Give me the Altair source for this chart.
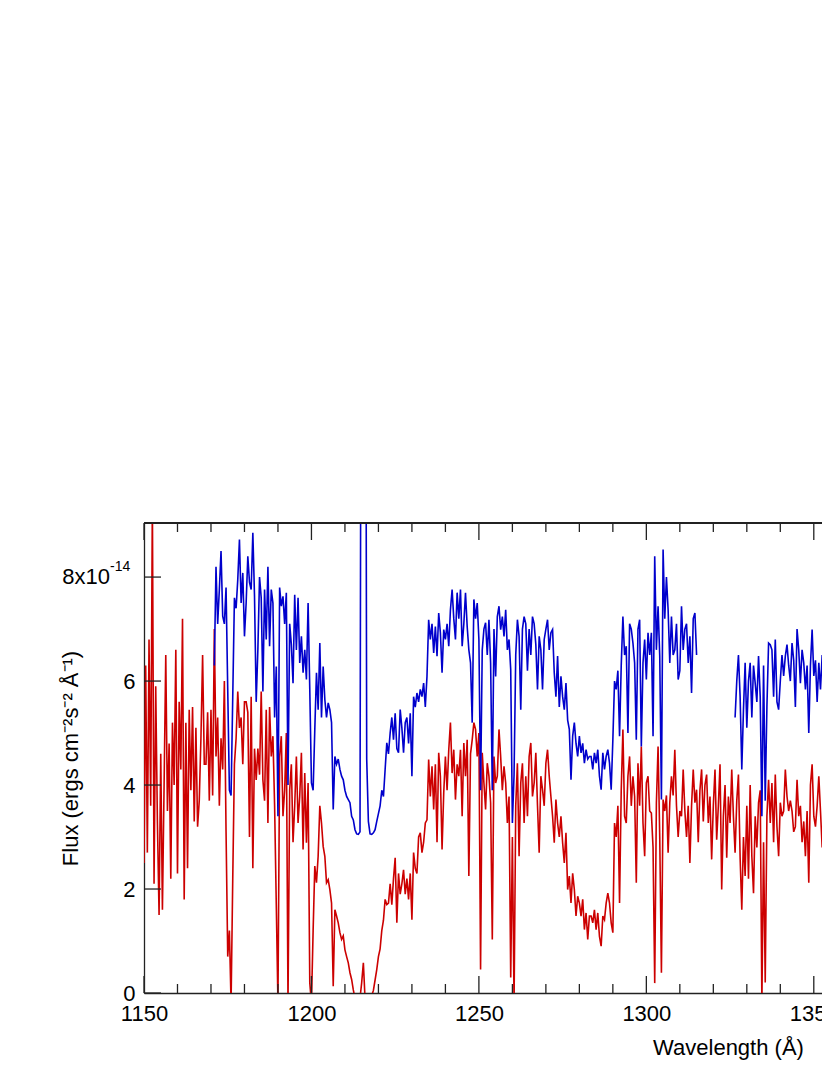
import altair as alt
import pandas as pd

# ---------------- data (flux in units of 1e-14 ergs cm^-2 s^-1 A^-1) ----------------
WAVE_START = 1150.0   # first sample of the red spectrum (Angstrom)
WAVE_STEP = 0.5       # sampling step (Angstrom)

RED_FLUX = [
    2.5, 6.3, 2.7, 6.8, 3.6, 9.5, 2.1, 5.9, 3.3, 1.5,        # 1150
    4.6, 1.6, 4.0, 6.5, 3.5, 4.8, 2.2, 5.2, 4.0, 6.6,        # 1155
    2.3, 5.6, 4.3, 7.2, 1.8, 5.2, 2.4, 5.45, 3.9, 5.5,       # 1160
    3.3, 5.1, 3.2, 3.7, 4.9, 6.5, 4.4, 4.4, 5.4, 3.7,        # 1165
    5.45, 3.8, 7.0, 4.55, 5.3, 3.6, 4.9, 4.3, 6.0, 3.1,      # 1170
    0.7, 1.2, -0.2, 2.2, 4.4, 4.9, 5.8, 5.1, 5.3, 4.4,       # 1175
    5.6, 5.6, 5.4, 3.0, 5.7, 2.4, 4.7, 4.1, 4.7, 4.2,        # 1180
    5.8, 4.1, 3.7, 5.45, 3.27, 5.5, 4.55, 4.94, 3.6, 1.7,    # 1185
    -0.2, 4.55, 4.94, 3.4, 3.9, 5.0, -0.2, 3.9, 4.4, 2.9,    # 1190
    3.6, 4.55, 3.27, 3.78, 4.62, 2.76, 4.23, 2.89, 4.04, 0.2,  # 1195
    -0.2, 1.2, 2.44, 2.12, 2.63, 3.6, 3.27, 2.82, 2.63, 2.12,  # 1200
    2.18, 1.99, 1.73, 0.13, 1.6, 1.48, 1.35, 1.16, 1.03, 1.1,  # 1205
    0.83, 0.7, 0.58, 0.39, 0.26, 0.06, -0.1, -0.2, -0.2, -0.1,  # 1210
    0.2, 0.58, -0.1, -0.2, -0.2, -0.1, -0.05, 0.05, 0.25, 0.45,  # 1215
    0.7, 0.85, 1.2, 1.4, 1.8, 1.7, 1.73, 2.1, 1.7, 2.2,      # 1220
    2.6, 1.35, 2.3, 1.9, 2.1, 2.37, 1.9, 2.2, 1.8, 2.3,      # 1225
    1.41, 2.7, 2.4, 2.3, 3.0, 3.08, 2.7, 2.9, 3.27, 3.33,    # 1230
    4.49, 3.78, 4.36, 3.53, 4.4, 2.9, 4.62, 4.17, 2.76, 3.85,  # 1235
    4.55, 3.9, 4.68, 5.2, 4.23, 4.68, 3.72, 4.4, 4.17, 4.68,  # 1240
    3.4, 4.81, 4.17, 4.87, 2.25, 4.6, 4.87, 5.2, 5.07, 4.55,  # 1245
    5.0, 0.45, 4.62, 4.04, 3.53, 4.42, 4.17, 3.66, 1.03, 4.55,  # 1250
    4.04, 4.17, 5.07, 4.55, 3.9, 4.36, 4.04, 3.27, 3.78, 0.3,  # 1255
    3.0, -0.2, 3.6, 4.42, 2.63, 4.04, 4.42, 3.27, 4.17, 3.4,  # 1260
    4.55, 4.81, 3.78, 4.04, 4.62, 3.6, 2.7, 4.17, 3.91, 3.6,  # 1265
    4.42, 4.68, 4.17, 3.78, 3.4, 2.89, 3.72, 3.27, 3.0, 3.4,  # 1270
    2.89, 2.5, 3.08, 1.99, 2.25, 1.73, 2.3, 1.99, 1.48, 1.86,  # 1275
    1.73, 1.48, 1.8, 1.22, 1.54, 1.03, 1.48, 1.48, 1.35, 1.6,  # 1280
    1.22, 1.54, 1.09, 0.9, 1.48, 1.41, 1.73, 1.92, 1.73, 1.35,  # 1285
    1.16, 3.27, 3.0, 3.6, 1.73, 3.9, 5.07, 3.4, 3.27, 4.17,  # 1290
    4.55, 3.6, 4.17, 3.78, 2.12, 4.42, 3.6, 4.74, 3.27, 2.63,  # 1295
    4.04, 4.17, 3.5, 3.46, 2.8, 0.19, 3.66, 4.74, 3.0, 0.39,  # 1300
    3.72, 3.5, 3.8, 2.7, 3.66, 4.17, 3.8, 4.68, 3.6, 3.0,    # 1305
    3.5, 3.4, 4.3, 3.5, 3.0, 3.6, 2.5, 3.6, 4.3, 3.66,       # 1310
    3.91, 2.9, 3.9, 4.3, 3.3, 4.0, 4.2, 3.27, 3.78, 2.57,    # 1315
    3.6, 4.3, 2.95, 3.6, 4.4, 1.99, 3.4, 4.0, 2.6, 3.78,     # 1320
    3.27, 4.3, 3.4, 2.7, 3.7, 4.2, 2.6, 1.6, 3.0, 2.25,      # 1325
    3.6, 2.2, 4.0, 2.63, 1.92, 3.4, 2.8, 3.66, 3.9, -0.2,    # 1330
    2.9, 0.2, 3.4, 4.1, 3.27, 4.04, 2.9, 4.2, 3.2, 2.63,     # 1335
    3.66, 3.4, 3.5, 4.3, 3.78, 3.5, 3.7, 3.5, 3.1, 3.2,      # 1340
    4.1, 3.4, 3.6, 2.9, 3.3, 2.63, 3.5, 2.12, 4.0, 4.4,      # 1345
    3.4, 3.2, 3.6, 4.17, 3.5, 2.8, 3.7, 3.9, 3.5, 4.17,      # 1350
    3.4, 3.8, 3.3, 4.0, 3.6, 3.9, 3.2, 4.1, 3.5, 3.7,        # 1355
]

BLUE_A_START = 1171.0
BLUE_A_FLUX = [
    6.3, 8.2, 7.1, 7.76, 8.5, 7.25, 7.1, 7.8, 5.84, 3.9,     # 1171
    3.8, 5.7, 7.6, 7.4, 7.95, 8.72, 7.5, 8.08, 6.86, 7.5,    # 1176
    8.4, 7.9, 7.76, 8.85, 7.63, 5.6, 6.6, 8.0, 7.6, 5.8,     # 1181
    7.76, 6.8, 8.2, 6.67, 7.76, 7.5, 5.3, 6.28, 3.4, 7.8,    # 1186
    7.44, 7.63, 7.1, 7.7, 4.0, 7.1, 6.7, 5.96, 7.66, 6.6,    # 1191
    7.6, 6.35, 6.86, 6.16, 6.6, 6.03, 7.5, 5.84, 4.04, 3.9,  # 1196
    5.07, 6.16, 5.45, 6.73, 5.3, 6.28, 5.64, 5.3, 5.58, 5.45,  # 1201
    5.2, 3.53, 4.55, 4.4, 4.5, 4.3, 4.17, 4.1, 3.9, 3.78,    # 1206
    3.72, 3.66, 3.4, 3.33, 3.14, 3.06, 3.05, 3.1, 20.0, 40.0,  # 1211
    20.0, 4.5, 3.3, 3.06, 3.05, 3.08, 3.14, 3.3, 3.45, 3.6,  # 1216
    3.9, 3.78, 4.3, 4.81, 4.6, 5.0, 5.3, 4.87, 5.38, 4.7,    # 1221
    4.62, 5.45, 5.1, 4.62, 5.2, 5.3, 4.8, 5.38, 4.17, 5.7,   # 1226
    5.5, 5.77, 5.6, 5.84, 5.7, 5.96, 5.5, 6.09, 7.18, 6.8,   # 1231
    7.1, 6.54, 7.05, 6.48, 7.31, 6.93, 6.16, 6.99, 6.8, 7.1,  # 1236
    6.67, 7.37, 7.76, 7.2, 6.8, 7.7, 7.2, 7.76, 6.67, 7.1,   # 1241
    7.7, 7.05, 6.6, 6.35, 5.2, 7.57, 7.2, 7.5, 6.8, 3.9,     # 1246
    6.6, 7.0, 7.12, 6.5, 7.18, 6.35, 3.9, 7.0, 6.09, 7.24,   # 1251
    7.44, 6.99, 7.24, 6.86, 7.37, 6.6, 6.8, 6.22, 3.27, 4.2,  # 1256
    6.5, 7.18, 6.86, 5.45, 7.0, 7.24, 7.1, 6.2, 7.0, 6.5,    # 1261
    7.24, 7.1, 6.7, 5.84, 6.86, 6.6, 5.84, 6.8, 7.0, 7.18,   # 1266
    6.6, 6.93, 6.99, 6.16, 5.7, 6.48, 5.5, 6.09, 5.7, 5.45,  # 1271
    5.96, 5.25, 5.07, 4.1, 4.94, 5.2, 4.8, 4.55, 4.94, 4.62,  # 1276
    4.8, 4.42, 4.68, 4.5, 4.55, 4.55, 4.3, 4.62, 4.42, 4.68,  # 1281
    4.17, 3.91, 4.62, 4.3, 4.55, 4.68, 4.42, 3.91, 4.87, 6.0,  # 1286
    5.84, 6.2, 4.94, 6.3, 7.24, 6.5, 6.67, 5.0, 7.1, 7.0,    # 1291
    6.73, 6.35, 4.87, 7.0, 7.18, 4.74, 6.35, 6.8, 6.03, 6.93,  # 1296
    6.5, 6.93, 4.94, 8.4, 6.6, 7.44, 6.48, 3.72, 8.53, 7.2,  # 1301
    8.0, 7.37, 6.35, 7.24, 6.5, 6.6, 7.1, 6.03, 6.2, 7.44,   # 1306
    6.6, 7.0, 7.1, 6.35, 6.86, 5.77, 7.2, 7.31, 6.5,         # 1311 .. 1315
]

BLUE_B_START = 1326.5
BLUE_B_FLUX = [
    5.3, 6.0, 6.5, 5.7, 4.3, 5.45, 6.35, 5.1, 6.0, 6.35,     # 1326.5
    5.3, 6.3, 5.96, 5.6, 6.48, 5.7, 3.4, 6.3, 3.7, 5.5,      # 1331.5
    6.73, 6.7, 6.6, 5.7, 6.8, 5.6, 5.45, 6.0, 6.5, 6.1,      # 1336.5
    6.48, 6.7, 6.3, 6.0, 6.73, 6.4, 5.5, 7.0, 6.6, 5.96,     # 1341.5
    6.6, 6.35, 5.84, 6.3, 5.0, 6.3, 6.99, 6.1, 6.4, 5.6,     # 1346.5
    6.35, 5.84, 6.5, 6.2, 6.0, 5.7, 6.6, 6.3, 6.0, 6.6,      # 1351.5
    5.9, 6.4, 6.1, 6.5, 5.8, 6.3, 6.2,                       # 1356.5
]

# visible part of the wavelength axis (the figure is cut at the right edge)
X_DOMAIN = [1150, 1352.45]
Y_DOMAIN = [0, 9.04]
X_LABELS = [1150, 1200, 1250, 1300, 1350]
X_MINOR = [v for v in range(1150, 1351, 10) if v % 50 != 0]
Y_TICKS = [0, 2, 4, 6, 8]
TOP_LABEL = ["8x10"]
TOP_LABEL_EXP = ["-14"]

# ---------------- frames ----------------
red_df = pd.DataFrame({
    "wave": [WAVE_START + i * WAVE_STEP for i in range(len(RED_FLUX))],
    "flux": RED_FLUX,
})
blue_df = pd.concat([
    pd.DataFrame({"wave": [BLUE_A_START + i * WAVE_STEP for i in range(len(BLUE_A_FLUX))],
                  "flux": BLUE_A_FLUX, "seg": "a"}),
    pd.DataFrame({"wave": [BLUE_B_START + i * WAVE_STEP for i in range(len(BLUE_B_FLUX))],
                  "flux": BLUE_B_FLUX, "seg": "b"}),
])
major_df = pd.DataFrame({"t": X_LABELS})
minor_df = pd.DataFrame({"t": X_MINOR})
ytick_df = pd.DataFrame({"v": Y_TICKS})
lab_df = pd.DataFrame({"v": [8], "t": TOP_LABEL, "e": TOP_LABEL_EXP})

W, H = 678, 470
FONT = "Liberation Sans"
INK = "#222222"

xscale = alt.Scale(domain=X_DOMAIN, nice=False, zero=False)
yscale = alt.Scale(domain=Y_DOMAIN, nice=False, zero=False)

xaxis = alt.Axis(
    values=X_LABELS, format="d", ticks=False, grid=False,
    domain=True, domainColor=INK, domainWidth=1.3,
    labelFont=FONT, labelFontSize=22, labelColor="black", labelPadding=10,
    labelFlush=False, labelOverlap=False,
    title="Wavelength (Å)", titleFont=FONT, titleFontSize=22,
    titleFontWeight="normal", titleColor="black",
    titleX=584, titleY=54, titleBaseline="middle", titleAlign="center",
)
yaxis = alt.Axis(
    values=Y_TICKS, ticks=False, grid=False,
    domain=True, domainColor=INK, domainWidth=1.3,
    labelExpr="datum.value == 8 ? '' : datum.label",
    labelFont=FONT, labelFontSize=22, labelColor="black", labelPadding=9,
    labelFlush=False,
    title="Flux (ergs cm\u207b\u00b2s\u207b\u00b2 \u00c5\u207b\u00b9)",
    titleFont=FONT, titleFontSize=22, titleFontWeight="normal", titleColor="black",
    titleX=-74, titleY=H / 2, titleAngle=270, titleBaseline="middle", titleAlign="center",
)

red = alt.Chart(red_df).mark_line(color="#CC0000", strokeWidth=1.6, clip=True).encode(
    x=alt.X("wave:Q", scale=xscale, axis=xaxis),
    y=alt.Y("flux:Q", scale=yscale, axis=yaxis),
)
blue = alt.Chart(blue_df).mark_line(color="#0000CC", strokeWidth=1.6, clip=True).encode(
    x=alt.X("wave:Q", scale=xscale),
    y=alt.Y("flux:Q", scale=yscale),
    detail="seg:N",
)

def xticks(df, y1, y2):
    return alt.Chart(df).mark_rule(color=INK, strokeWidth=1.3).encode(
        x=alt.X("t:Q", scale=xscale), y=alt.value(y1), y2=alt.value(y2)
    )

ticks = [
    xticks(major_df, H, H - 17), xticks(major_df, 0, 17),
    xticks(minor_df, H, H - 9), xticks(minor_df, 0, 9),
    alt.Chart(ytick_df).mark_rule(color=INK, strokeWidth=1.3).encode(
        y=alt.Y("v:Q", scale=yscale), x=alt.value(0), x2=alt.value(17)
    ),
]

# top frame line of the plot box
top_line = alt.Chart(ytick_df).mark_rule(color=INK, strokeWidth=1.3).encode(
    x=alt.value(0), x2=alt.value(W), y=alt.value(0)
)

lab_main = alt.Chart(lab_df).mark_text(
    font=FONT, fontSize=22, align="right", baseline="middle", color="black"
).encode(x=alt.value(-34), y=alt.Y("v:Q", scale=yscale), text="t:N")
lab_exp = alt.Chart(lab_df).mark_text(
    font=FONT, fontSize=14, align="left", baseline="middle", color="black", dy=-10
).encode(x=alt.value(-34), y=alt.Y("v:Q", scale=yscale), text="e:N")

chart = alt.layer(red, blue, *ticks, top_line, lab_main, lab_exp).properties(
    width=W, height=H,
    autosize=alt.AutoSizeParams(type="none"),
    padding={"left": 136, "top": 515, "right": 0, "bottom": 75},
).configure_view(stroke=None)

chart.save("out.html", embed_options={"renderer": "svg", "actions": False})
